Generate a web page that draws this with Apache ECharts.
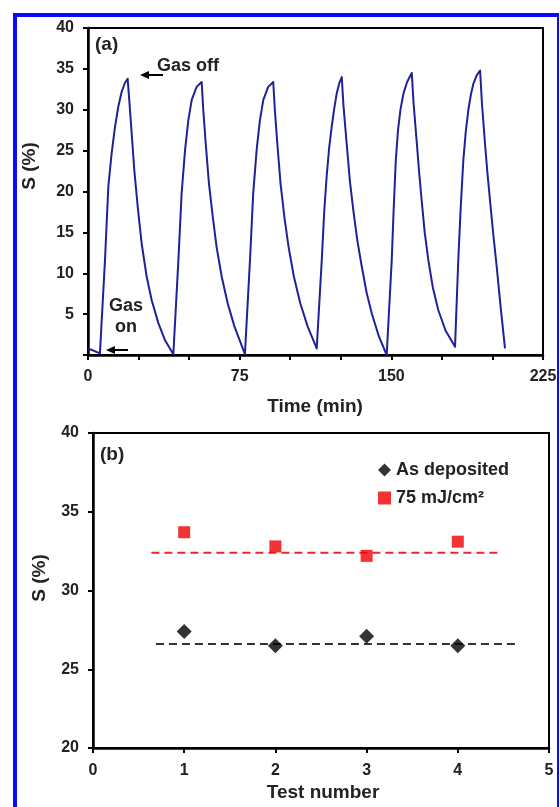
<!DOCTYPE html>
<html>
<head>
<meta charset="utf-8">
<script src="https://cdn.jsdelivr.net/npm/echarts@6/dist/echarts.min.js"></script>
<style>
  html, body { margin: 0; padding: 0; background: #fff; }
  #main { width: 560px; height: 807px; }
</style>
</head>
<body>
<div id="main"></div>
<script>
  // (a) sensor response vs time (one row per gas on/off cycle)
  var timeMin = [0.1, 3.0, 5.9,
    8.4, 10.05, 11.7, 13.35, 15.0, 16.65, 18.3, 19.6, 20.4, 21.6, 22.9, 24.6, 26.5, 29.0, 31.5, 34.8, 38.1, 42.2,
    44.7, 46.3, 48.0, 49.6, 51.3, 53.7, 56.2, 57.0, 58.2, 59.8, 61.7, 63.6, 66.1, 69.1, 72.4, 77.6,
    80.1, 81.7, 83.4, 85.0, 86.7, 89.1, 91.6, 92.4, 93.6, 95.2, 97.1, 99.2, 101.8, 105.0, 108.6, 113.1,
    115.6, 116.8, 118.0, 119.2, 120.5, 121.8, 123.0, 124.3, 125.5, 126.3, 127.9, 129.5, 131.2, 133.2, 135.4, 137.8, 140.3, 143.8, 147.7,
    150.2, 151.1, 152.2, 153.3, 154.5, 156.0, 157.8, 160.1, 161.0, 162.6, 163.8, 165.0, 166.5, 168.3, 170.5, 173.2, 176.8, 181.5,
    183.1, 184.3, 185.6, 186.8, 188.1, 189.3, 190.6, 192.2, 193.9, 194.8, 196.3, 197.5, 198.8, 200.4, 202.1, 204.0, 206.2];
  var sensPct = [0.8, 0.5, 0.2,
    11.6, 20.6, 24.7, 27.9, 30.4, 32.2, 33.3, 33.8, 31.2, 27.1, 22.6, 18.1, 13.7, 9.6, 6.7, 3.9, 1.8, 0.1,
    11.6, 19.8, 25.1, 28.7, 31.2, 32.8, 33.4, 30.0, 25.9, 21.0, 16.9, 13.2, 9.6, 6.3, 3.5, 0.1,
    11.6, 19.8, 25.1, 28.7, 31.2, 32.8, 33.4, 30.0, 25.9, 21.0, 16.9, 13.2, 9.6, 6.3, 3.5, 0.8,
    11.6, 17.5, 21.8, 25.2, 27.9, 30.2, 32.0, 33.3, 34.0, 30.6, 25.9, 21.3, 17.7, 14.0, 10.8, 7.6, 5.1, 2.3, 0.0,
    11.6, 17.5, 23.8, 27.5, 30.0, 32.0, 33.4, 34.5, 30.8, 25.9, 22.2, 18.9, 15.0, 11.6, 8.3, 5.5, 3.0, 1.0,
    11.6, 18.0, 23.8, 27.3, 30.0, 31.8, 33.2, 34.2, 34.8, 30.8, 25.9, 22.3, 18.9, 14.8, 10.8, 6.0, 0.8];

  // (b) response per test
  var testNum = [1, 2, 3, 4];
  var asDeposited = [27.4, 26.5, 27.1, 26.5];
  var lased75 = [33.7, 32.8, 32.2, 33.1];
  var asDepMean = 26.6;
  var lasedMean = 32.4;
  var asDepSpan = [0.69, 4.65];
  var lasedSpan = [0.64, 4.46];

  var FONT = 'Liberation Sans';
  var BLUE = '#0a0aff';

  function zip(xs, ys) {
    return xs.map(function (x, i) { return [x, ys[i]]; });
  }

  function axisBase() {
    return {
      axisLine: { show: true, onZero: false, lineStyle: { color: '#000', width: 2.5 } },
      axisTick: { show: true, length: 5, lineStyle: { color: '#000', width: 2 } },
      splitLine: { show: false },
      axisLabel: { color: '#222', fontFamily: FONT, fontWeight: 'bold', fontSize: 16 }
    };
  }

  function txt(text, x, y, size, align, rot) {
    return {
      type: 'text', x: x, y: y, rotation: rot || 0, z: 100,
      style: {
        text: text, x: 0, y: 0, fill: '#222',
        font: 'bold ' + size + 'px "' + FONT + '"',
        textAlign: align || 'left', textVerticalAlign: 'middle'
      }
    };
  }

  function arrow(x1, x2, y) {
    return [
      { type: 'line', z: 100, shape: { x1: x1 + 6, y1: y, x2: x2, y2: y }, style: { stroke: '#000', lineWidth: 2 } },
      { type: 'polygon', z: 100, shape: { points: [[x1, y], [x1 + 9, y - 4], [x1 + 9, y + 4]] }, style: { fill: '#000' } }
    ];
  }

  var xTop = axisBase();
  xTop.type = 'value'; xTop.gridIndex = 0; xTop.min = 0; xTop.max = 225; xTop.interval = 25;
  xTop.axisLabel.margin = 14;
  xTop.axisLabel.formatter = function (v) { return v % 75 === 0 ? v : ''; };

  var yTop = axisBase();
  yTop.type = 'value'; yTop.gridIndex = 0; yTop.min = 0; yTop.max = 40; yTop.interval = 5;
  yTop.axisLabel.margin = 14;
  yTop.axisLabel.formatter = function (v) { return v === 0 ? '' : v; };

  var xBot = axisBase();
  xBot.type = 'value'; xBot.gridIndex = 1; xBot.min = 0; xBot.max = 5; xBot.interval = 1;
  xBot.axisLabel.margin = 15;

  var yBot = axisBase();
  yBot.type = 'value'; yBot.gridIndex = 1; yBot.min = 20; yBot.max = 40; yBot.interval = 5;
  yBot.axisLabel.margin = 14;

  var graphics = [
    { type: 'rect', z: 200, shape: { x: 13, y: 13, width: 4, height: 794 }, style: { fill: BLUE } },
    { type: 'rect', z: 200, shape: { x: 13, y: 13, width: 546, height: 4 }, style: { fill: BLUE } },
    { type: 'rect', z: 200, shape: { x: 557, y: 13, width: 2, height: 794 }, style: { fill: BLUE } },
    txt('(a)', 95, 45, 19),
    txt('(b)', 100, 455, 19),
    txt('Gas off', 157, 66, 18),
    txt('Gas', 126, 306, 18, 'center'),
    txt('on', 126, 327, 18, 'center'),
    txt('S (%)', 30, 166, 19, 'center', Math.PI / 2),
    txt('S (%)', 40, 578, 19, 'center', Math.PI / 2),
    txt('Time (min)', 315, 407, 19, 'center'),
    txt('Test number', 323, 793, 19, 'center')
  ].concat(arrow(140, 163, 75)).concat(arrow(106, 128, 350));

  var chart = echarts.init(document.getElementById('main'), null, { renderer: 'canvas' });
  chart.setOption({
    animation: false,
    backgroundColor: '#fff',
    grid: [
      { left: 88, top: 28, width: 455, height: 327, show: true, borderColor: '#000', borderWidth: 2, backgroundColor: '#fff' },
      { left: 93, top: 433, width: 456, height: 315, show: true, borderColor: '#000', borderWidth: 2, backgroundColor: '#fff' }
    ],
    xAxis: [xTop, xBot],
    yAxis: [yTop, yBot],
    legend: {
      orient: 'vertical', left: 373, top: 456, itemGap: 10, itemWidth: 13, itemHeight: 13,
      data: ['As deposited', '75 mJ/cm²'],
      textStyle: { fontFamily: FONT, fontWeight: 'bold', fontSize: 18, color: '#222' }
    },
    graphic: graphics,
    series: [
      {
        type: 'line', xAxisIndex: 0, yAxisIndex: 0, data: zip(timeMin, sensPct),
        symbol: 'none', smooth: false,
        lineStyle: { color: '#20209a', width: 2, join: 'round' }
      },
      {
        type: 'line', xAxisIndex: 1, yAxisIndex: 1, symbol: 'none',
        data: [[lasedSpan[0], lasedMean], [lasedSpan[1], lasedMean]],
        lineStyle: { color: '#e82828', width: 2, type: [8, 5] }
      },
      {
        type: 'line', xAxisIndex: 1, yAxisIndex: 1, symbol: 'none',
        data: [[asDepSpan[0], asDepMean], [asDepSpan[1], asDepMean]],
        lineStyle: { color: '#333', width: 2, type: [8, 5] }
      },
      {
        name: 'As deposited', type: 'scatter', xAxisIndex: 1, yAxisIndex: 1,
        data: zip(testNum, asDeposited), symbol: 'diamond', symbolSize: 15,
        itemStyle: { color: '#000' }, z: 5
      },
      {
        name: '75 mJ/cm²', type: 'scatter', xAxisIndex: 1, yAxisIndex: 1,
        data: zip(testNum, lased75), symbol: 'rect', symbolSize: 12,
        itemStyle: { color: '#f00000' }, z: 5
      }
    ]
  });
</script>
</body>
</html>
